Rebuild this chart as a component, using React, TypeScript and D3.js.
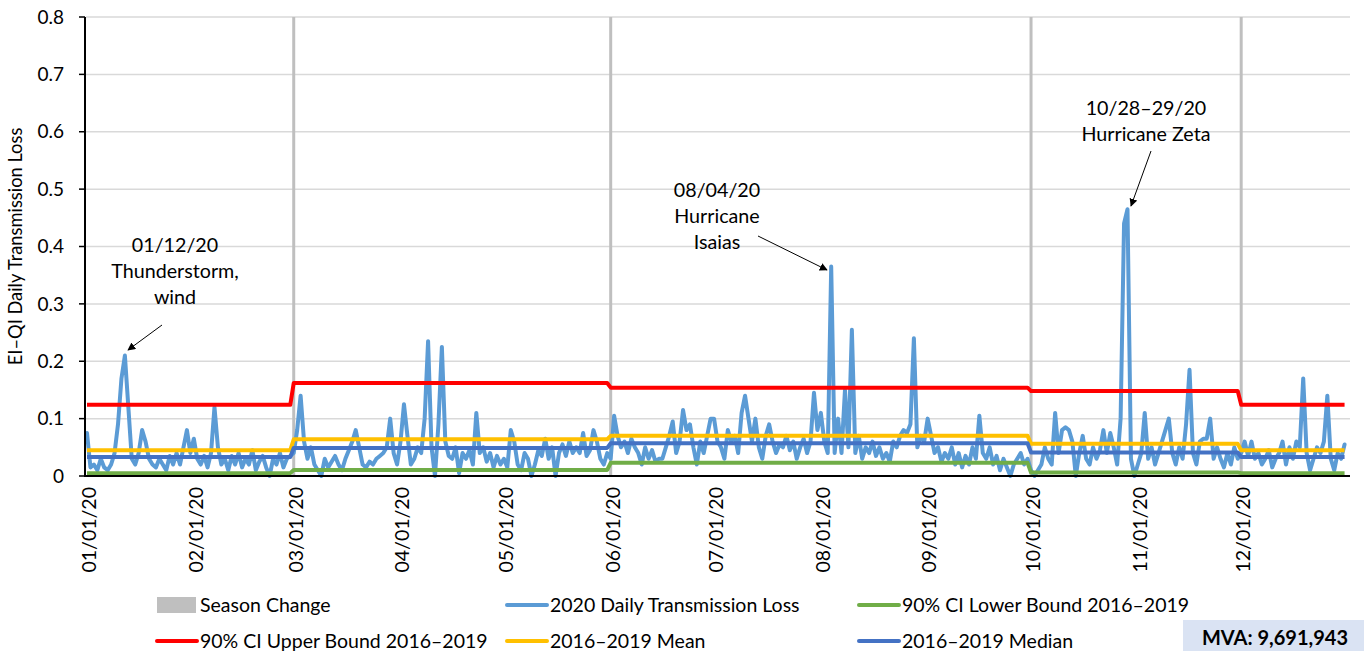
import React, { useMemo } from "react";
import * as d3 from "d3";

// ---- Data ----
const jan = [0.075,0.015,0.02,0.01,0.03,0.015,0.01,0.02,0.04,0.09,0.17,0.21,0.12,0.03,0.02,0.04,0.08,0.06,0.03,0.02,0.015,0.03,0.02,0.01,0.035,0.02,0.04,0.02,0.05,0.08,0.04];
const feb = [0.065,0.03,0.02,0.035,0.015,0.04,0.12,0.05,0.02,0.03,0.01,0.035,0.02,0.04,0.015,0.03,0.02,0.045,0.01,0.025,0.035,0.015,0.0,0.03,0.02,0.04,0.015,0.03,0.035];
const mar = [0.04,0.08,0.14,0.06,0.03,0.05,0.02,0.01,0.0,0.03,0.015,0.025,0.035,0.02,0.01,0.03,0.045,0.06,0.08,0.05,0.02,0.015,0.025,0.02,0.03,0.035,0.04,0.05,0.1,0.04,0.02];
const apr = [0.06,0.125,0.07,0.02,0.03,0.05,0.04,0.1,0.235,0.05,0.0,0.09,0.225,0.06,0.035,0.03,0.05,0.005,0.04,0.03,0.045,0.02,0.11,0.04,0.05,0.025,0.04,0.015,0.035,0.02];
const may = [0.03,0.015,0.08,0.06,0.02,0.01,0.04,0.03,0.0,0.02,0.045,0.035,0.065,0.03,0.05,0.0,0.04,0.055,0.035,0.06,0.04,0.05,0.04,0.075,0.035,0.045,0.08,0.06,0.03,0.02,0.04];
const jun = [0.03,0.105,0.07,0.05,0.06,0.04,0.065,0.05,0.04,0.02,0.05,0.03,0.045,0.025,0.03,0.03,0.05,0.07,0.095,0.04,0.06,0.115,0.08,0.09,0.05,0.02,0.06,0.04,0.07,0.1];
const jul = [0.1,0.06,0.05,0.03,0.08,0.06,0.07,0.04,0.11,0.14,0.1,0.06,0.1,0.05,0.03,0.07,0.09,0.06,0.04,0.055,0.05,0.07,0.045,0.06,0.03,0.05,0.065,0.04,0.06,0.145,0.08];
const aug = [0.11,0.06,0.04,0.365,0.04,0.1,0.04,0.15,0.05,0.255,0.04,0.07,0.03,0.05,0.04,0.06,0.035,0.05,0.03,0.04,0.025,0.06,0.05,0.07,0.08,0.075,0.09,0.24,0.05,0.07,0.06];
const sep = [0.1,0.07,0.04,0.05,0.025,0.04,0.03,0.05,0.02,0.04,0.015,0.035,0.02,0.05,0.03,0.105,0.04,0.03,0.05,0.02,0.035,0.01,0.03,0.015,0.0,0.02,0.03,0.04,0.02,0.03];
const oct = [0.01,0.0,0.01,0.02,0.05,0.03,0.02,0.11,0.04,0.08,0.085,0.08,0.06,0.0,0.04,0.07,0.03,0.02,0.05,0.03,0.045,0.08,0.04,0.075,0.05,0.02,0.1,0.44,0.465,0.03,0.0];
const nov = [0.02,0.04,0.11,0.03,0.05,0.02,0.04,0.06,0.08,0.1,0.04,0.02,0.05,0.03,0.09,0.185,0.04,0.02,0.06,0.065,0.065,0.1,0.03,0.05,0.03,0.015,0.04,0.02,0.05,0.03];
const dec = [0.04,0.06,0.035,0.06,0.03,0.04,0.02,0.03,0.045,0.015,0.03,0.04,0.06,0.02,0.05,0.03,0.06,0.05,0.17,0.04,0.01,0.03,0.05,0.04,0.06,0.14,0.03,0.01,0.04,0.03,0.055];
const dailyLossByMonth = [jan, feb, mar, apr, may, jun, jul, aug, sep, oct, nov, dec];

// Seasons start months (0-based) and their 2016–2019 statistics
const seasonStartMonths = [0, 2, 5, 9, 11];
const upperBound = [0.124, 0.162, 0.154, 0.148, 0.124];
const meanValues = [0.045, 0.064, 0.070, 0.056, 0.045];
const medianValues = [0.033, 0.049, 0.057, 0.041, 0.033];
const lowerBound = [0.005, 0.0105, 0.023, 0.006, 0.005];

const yTicks = [0, 0.1, 0.2, 0.3, 0.4, 0.5, 0.6, 0.7, 0.8];
const yTickLabels = ["0", "0.1", "0.2", "0.3", "0.4", "0.5", "0.6", "0.7", "0.8"];

const annotations = [
  { date: new Date(2020, 0, 12), value: 0.21, lines: ["01/12/20", "Thunderstorm,", "wind"] },
  { date: new Date(2020, 7, 4), value: 0.365, lines: ["08/04/20", "Hurricane", "Isaias"] },
  { date: new Date(2020, 9, 29), value: 0.465, lines: ["10/28–29/20", "Hurricane Zeta"] },
];

const legendItems = [
  { label: "Season Change", color: "#bfbfbf", kind: "rect" },
  { label: "2020 Daily Transmission Loss", color: "#5b9bd5", kind: "line" },
  { label: "90% CI Lower Bound 2016–2019", color: "#70ad47", kind: "line" },
  { label: "90% CI Upper Bound 2016–2019", color: "#ff0000", kind: "line" },
  { label: "2016–2019 Mean", color: "#ffc000", kind: "line" },
  { label: "2016–2019 Median", color: "#4472c4", kind: "line" },
];

const mvaText = "MVA: 9,691,943";

const FONT = "Lato, 'Open Sans', sans-serif";

export default function App() {
  const W = 1364, H = 651;
  const left = 87, right = 1348, top = 17, bottom = 476;

  const x = useMemo(
    () => d3.scaleTime().domain([new Date(2020, 0, 1), new Date(2021, 0, 1)]).range([left, right]),
    []
  );
  const y = useMemo(() => d3.scaleLinear().domain([0, 0.8]).range([bottom, top]), []);

  const daily = useMemo(() => {
    const pts: { date: Date; v: number; m: number }[] = [];
    dailyLossByMonth.forEach((arr, m) => {
      arr.forEach((v, i) => pts.push({ date: new Date(2020, m, 1 + i), v, m }));
    });
    return pts;
  }, []);

  const seasonIndex = (m: number) => {
    let s = 0;
    seasonStartMonths.forEach((sm, i) => { if (m >= sm) s = i; });
    return s;
  };

  const line = d3.line<{ date: Date; v: number }>().x((d) => x(d.date)).y((d) => y(d.v));
  const stepPath = (vals: number[]) =>
    line(daily.map((d) => ({ date: d.date, v: vals[seasonIndex(d.m)] }))) || "";

  const seasonChanges = seasonStartMonths.slice(1).map((m) => new Date(2020, m, 1));
  const monthTicks = d3.timeMonth.range(new Date(2020, 0, 1), new Date(2021, 0, 1));
  const fmt = d3.timeFormat("%m/%d/%y");

  // Annotation layouts (text anchor and arrow)
  const annLayout = [
    { tx: 175, ty: 245, from: [162, 325], to: [128, 350] },
    { tx: 717, ty: 190, from: [758, 236], to: [827, 270] },
    { tx: 1146, ty: 108, from: [1151, 151], to: [1131, 206] },
  ];

  const legendCols = [157, 507, 859];
  const legendRows = [605, 641];

  return (
    <div style={{ position: "fixed", left: 0, top: 0, width: W, height: H, background: "#fff" }}>
      <svg width={W} height={H} style={{ display: "block" }} fontFamily={FONT}>
        <defs>
          <marker id="arrow" viewBox="0 0 10 10" refX="9" refY="5" markerWidth="8" markerHeight="8" orient="auto-start-reverse" markerUnits="userSpaceOnUse">
            <path d="M0,0 L10,5 L0,10 z" fill="#000" />
          </marker>
        </defs>
        {/* gridlines */}
        {yTicks.slice(1).map((t) => (
          <line key={t} x1={left - 1} x2={1350} y1={y(t)} y2={y(t)} stroke="#d9d9d9" strokeWidth={1.5} />
        ))}
        {/* season change bars */}
        {seasonChanges.map((d, i) => (
          <line key={i} x1={x(d)} x2={x(d)} y1={y(0)} y2={y(0.8)} stroke="#bfbfbf" strokeWidth={3} />
        ))}
        {/* daily line */}
        <path d={line(daily) || ""} fill="none" stroke="#5b9bd5" strokeWidth={4} strokeLinejoin="round" strokeLinecap="round" />
        <path d={stepPath(upperBound)} fill="none" stroke="#ff0000" strokeWidth={4} strokeLinejoin="round" />
        <path d={stepPath(meanValues)} fill="none" stroke="#ffc000" strokeWidth={4} strokeLinejoin="round" />
        <path d={stepPath(medianValues)} fill="none" stroke="#4472c4" strokeWidth={4} strokeLinejoin="round" />
        <path d={stepPath(lowerBound)} fill="none" stroke="#70ad47" strokeWidth={4} strokeLinejoin="round" />

        {/* axes */}
        <line x1={left - 2} x2={left - 2} y1={top} y2={bottom + 1} stroke="#000" strokeWidth={2} />
        <line x1={left - 3} x2={1350} y1={bottom} y2={bottom} stroke="#000" strokeWidth={2} />
        {yTicks.map((t, i) => (
          <g key={t}>
            <line x1={left - 8} x2={left - 2} y1={y(t)} y2={y(t)} stroke="#000" strokeWidth={1.5} />
            <text x={64} y={y(t)} dy="0.35em" textAnchor="end" fontSize={19} fill="#000">{yTickLabels[i]}</text>
          </g>
        ))}
        {monthTicks.map((d) => (
          <text key={+d} transform={`translate(${x(d) + 2},487) rotate(-90)`} textAnchor="end" dy="0.35em" fontSize={19.5} fill="#000">
            {fmt(d)}
          </text>
        ))}
        <text transform={`translate(16,${(top + bottom) / 2}) rotate(-90)`} textAnchor="middle" dy="0.35em" fontSize={18.3} fill="#000">
          EI–QI Daily Transmission Loss
        </text>

        {/* annotations */}
        {annotations.map((a, i) => {
          const L = annLayout[i];
          return (
            <g key={i}>
              {a.lines.map((s, j) => (
                <text key={j} x={L.tx} y={L.ty + j * 26} dy="0.35em" textAnchor="middle" fontSize={19.7} fill="#000">{s}</text>
              ))}
              <line x1={L.from[0]} y1={L.from[1]} x2={L.to[0]} y2={L.to[1]} stroke="#000" strokeWidth={1} markerEnd="url(#arrow)" />
            </g>
          );
        })}

        {/* legend */}
        {legendItems.map((it, i) => {
          const cx = legendCols[i % 3];
          const cy = legendRows[Math.floor(i / 3)];
          return (
            <g key={i}>
              {it.kind === "rect" ? (
                <rect x={cx} y={cy - 8} width={39} height={16} fill={it.color} />
              ) : (
                <line x1={cx} x2={cx + 40} y1={cy} y2={cy} stroke={it.color} strokeWidth={4} strokeLinecap="round" />
              )}
              <text x={cx + 43} y={cy} dy="0.35em" fontSize={19.5} fill="#000">{it.label}</text>
            </g>
          );
        })}

        {/* MVA box */}
        <rect x={1183} y={620} width={181} height={31} fill="#dae3f3" />
        <text x={1275} y={638} dy="0.35em" textAnchor="middle" fontSize={20} fontWeight="bold" fill="#000">{mvaText}</text>
      </svg>
    </div>
  );
}
